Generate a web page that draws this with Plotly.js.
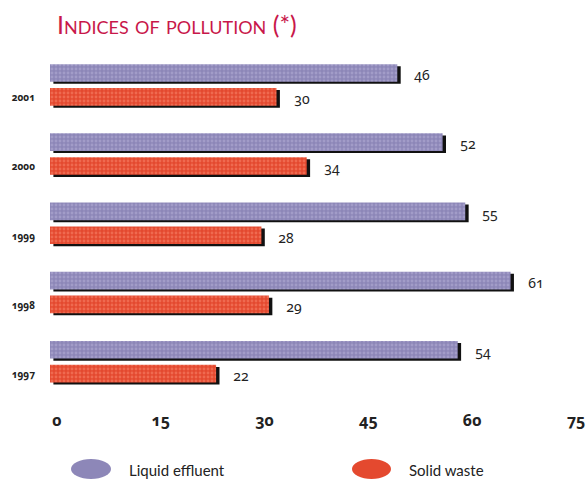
<!DOCTYPE html>
<html>
<head>
<meta charset="utf-8">
<script src="https://cdn.plot.ly/plotly-3.0.1.min.js"></script>
<style>
  html, body { margin: 0; padding: 0; background: #fff; }
  #chart { width: 586px; height: 480px; }
  .main-svg text { font-variant-numeric: oldstyle-nums !important; }
</style>
</head>
<body>
<div id="chart"></div>
<script>
// Pollution indices per year
const years = ['1997', '1998', '1999', '2000', '2001'];
const liquidEffluent = [54, 61, 55, 52, 46];
const solidWaste = [22, 29, 28, 34, 30];
const seriesNames = ['Liquid effluent', 'Solid waste'];
const scaleTicks = [0, 15, 30, 45, 60, 75];

const W = 586, H = 480;
const M = { l: 50, r: 0, t: 51, b: 83 };
const plotW = W - M.l - M.r, plotH = H - M.t - M.b;

// pixel -> paper helpers for legend decorations
const px = v => (v - M.l) / plotW;
const py = v => (H - M.b - v) / plotH;

const lilac = '#8d87b8', lilacDot = '#a29cc8';
const coral = '#e4492f', coralDot = '#ef6a50';

const barW = 0.255;
const shadowShift = 0.45;

function shadow(values, offset) {
  return {
    type: 'bar', orientation: 'h', y: years, x: values,
    base: shadowShift, offset: offset - 0.03, width: barW,
    marker: { color: '#111', line: { width: 0 } },
    hoverinfo: 'skip', showlegend: false
  };
}
function bars(values, name, offset, bg, fg) {
  return {
    type: 'bar', orientation: 'h', y: years, x: values, name: name,
    offset: offset, width: barW,
    marker: {
      color: bg, line: { width: 0 },
      pattern: { shape: '.', size: 4, solidity: 0.4, fgcolor: fg, bgcolor: bg, fgopacity: 1 }
    },
    showlegend: false
  };
}

const data = [
  shadow(liquidEffluent, 0.055),
  bars(liquidEffluent, seriesNames[0], 0.055, lilac, lilacDot),
  shadow(solidWaste, -0.29),
  bars(solidWaste, seriesNames[1], -0.29, coral, coralDot),
  // carrier for the printed index scale (draws nothing)
  { type: 'scatter', mode: 'none', xaxis: 'x2', yaxis: 'y',
    x: [scaleTicks[0], scaleTicks[scaleTicks.length - 1]], y: [years[0], years[0]],
    hoverinfo: 'skip', showlegend: false }
];

// value labels beside each bar (category index used for y)
const labelFont = { family: 'Noto Sans', size: 14, color: '#222' };
const annotations = [];
years.forEach((y, i) => {
  annotations.push({
    x: liquidEffluent[i], y: i, xref: 'x', yref: 'y', text: String(liquidEffluent[i]),
    showarrow: false, xanchor: 'left', yanchor: 'middle', xshift: 15, yshift: 11, font: labelFont
  });
  annotations.push({
    x: solidWaste[i], y: i, xref: 'x', yref: 'y', text: String(solidWaste[i]),
    showarrow: false, xanchor: 'left', yanchor: 'middle', xshift: 15, yshift: -13, font: labelFont
  });
});

// legend: ellipse swatches with names
const legendFont = { family: 'Lato, Noto Sans', size: 15, color: '#222' };
const shapes = [
  { type: 'circle', xref: 'paper', yref: 'paper', x0: px(71), x1: px(111), y0: py(479), y1: py(459),
    fillcolor: lilac, line: { width: 0 } },
  { type: 'circle', xref: 'paper', yref: 'paper', x0: px(352), x1: px(391), y0: py(479), y1: py(459),
    fillcolor: coral, line: { width: 0 } }
];
annotations.push({ x: px(127), y: py(470), xref: 'paper', yref: 'paper', text: seriesNames[0],
  showarrow: false, xanchor: 'left', yanchor: 'middle', font: legendFont });
annotations.push({ x: px(407), y: py(470), xref: 'paper', yref: 'paper', text: seriesNames[1],
  showarrow: false, xanchor: 'left', yanchor: 'middle', font: legendFont });

const pxPerUnit = 7.55;      // bar scale
const tickPxPerUnit = 6.92;  // printed index scale
const tickZeroPx = 7;

const layout = {
  width: W, height: H,
  margin: M,
  paper_bgcolor: '#fff', plot_bgcolor: '#fff',
  barmode: 'overlay',
  showlegend: false,
  title: {
    text: 'Indices of pollution (*)',
    xref: 'container', yref: 'container', x: 57 / W, xanchor: 'left',
    y: 1 - 25 / H, yanchor: 'middle',
    font: { family: 'Lato, Noto Sans', size: 25, color: '#c8174a', variant: 'small-caps' }
  },
  xaxis: {
    range: [0, plotW / pxPerUnit], visible: false, fixedrange: true
  },
  xaxis2: {
    overlaying: 'x', anchor: 'y', side: 'bottom',
    range: [-tickZeroPx / tickPxPerUnit, (plotW - tickZeroPx) / tickPxPerUnit],
    tickmode: 'array', tickvals: scaleTicks, ticktext: scaleTicks.map(String),
    showgrid: false, zeroline: false, showline: false, ticks: '',
    ticklabelstandoff: 12,
    tickfont: { family: 'Noto Sans', size: 16, color: '#222', weight: 'bold' }
  },
  yaxis: {
    type: 'category', categoryorder: 'array', categoryarray: years,
    range: [-0.5, 4.5], showgrid: false, zeroline: false, showline: false, ticks: '',
    ticklabelstandoff: 14, ticklabelshift: 12,
    tickfont: { family: 'Noto Sans', size: 10, color: '#222', weight: 'bold' }
  },
  shapes: shapes,
  annotations: annotations
};

Plotly.newPlot('chart', data, layout, { displayModeBar: false, staticPlot: true });
</script>
</body>
</html>
